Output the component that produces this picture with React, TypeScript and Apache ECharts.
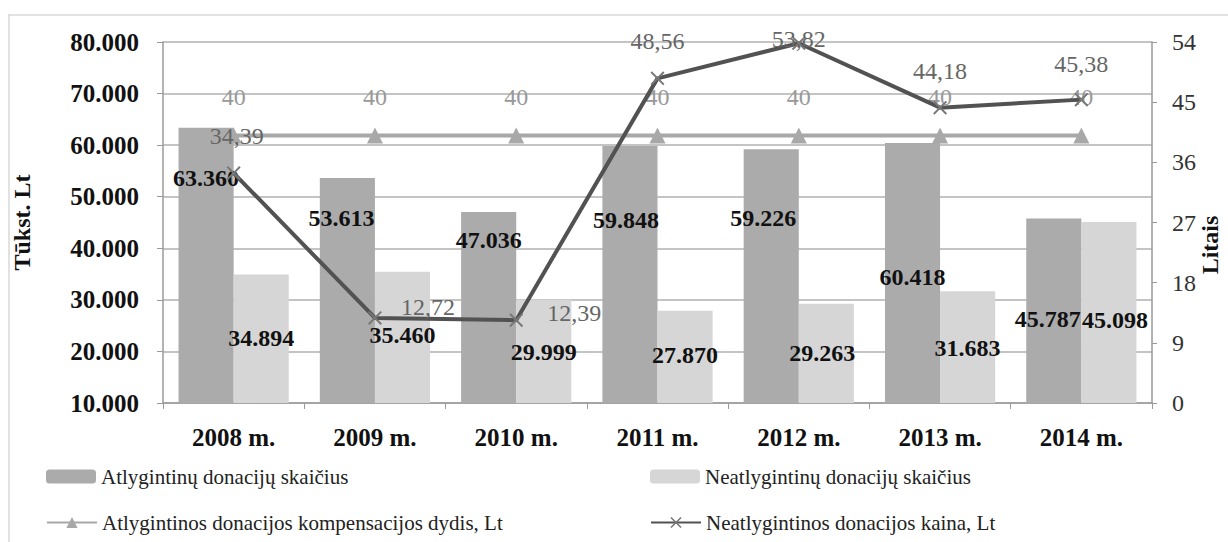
import React, { useEffect, useRef } from "react";
import * as echarts from "echarts";

const years = ["2008 m.", "2009 m.", "2010 m.", "2011 m.", "2012 m.", "2013 m.", "2014 m."];
const atlygintinu = [63360, 53613, 47036, 59848, 59226, 60418, 45787];
const neatlygintinu = [34894, 35460, 29999, 27870, 29263, 31683, 45098];
const kompensacija = [40, 40, 40, 40, 40, 40, 40];
const kaina = [34.39, 12.72, 12.39, 48.56, 53.82, 44.18, 45.38];

const leftTicks = { min: 10000, max: 80000, interval: 10000 };
const rightTicks = { min: 0, max: 54, interval: 9 };

const names = [
  "Atlygintinų donacijų skaičius",
  "Neatlygintinų donacijų skaičius",
  "Atlygintinos donacijos kompensacijos dydis, Lt",
  "Neatlygintinos donacijos kaina, Lt",
];

// label placement (styling only)
const atlDrop = [38, 28, 16, 62, 57, 122, 89];
const atlShift = [0, -6, 0, -4, -8, 0, -6];
const neatDrop = [51, 51, 40, 32, 37, 45, 86];
const neatShift = [0, 0, 0, 0, -4, 0, 6];
const kainaOffset: [number, number][] = [
  [3, -14], [53, 12], [58, 16], [0, -14], [0, 19], [0, -14], [0, -13],
];

const FONT = "'Liberation Serif', 'DejaVu Serif', serif";

const thous = (v: number) => {
  const s = Math.round(v).toString();
  return s.replace(/\B(?=(\d{3})+(?!\d))/g, ".");
};

export default function App() {
  const ref = useRef<HTMLDivElement>(null);
  useEffect(() => {
    document.body.style.margin = "0";
    if (!ref.current) return;
    const chart = echarts.init(ref.current, undefined, { renderer: "svg" });
    const crossPath = "path://M0,1L1,0L5,4L9,0L10,1L6,5L10,9L9,10L5,6L1,10L0,9L4,5Z";
    const legendBase = {
      textStyle: { fontFamily: FONT, fontSize: 21, color: "#222" },
      itemWidth: 50,
      itemHeight: 14,
      itemGap: 0,
      padding: 0,
    };
    const barLabel = {
      show: true,
      fontFamily: FONT,
      fontSize: 24,
      fontWeight: "bold",
      color: "#111",
      formatter: (p: any) => thous(p.value),
    };
    chart.setOption({
      animation: false,
      backgroundColor: "#fff",
      textStyle: { fontFamily: FONT },
      grid: { left: 163, right: 76, top: 42, bottom: 139, containLabel: false },
      graphic: [
        { type: "line", shape: { x1: 8, y1: 15, x2: 1228, y2: 15 }, style: { stroke: "#d8d8d8", lineWidth: 1.5 } },
        { type: "line", shape: { x1: 9, y1: 15, x2: 9, y2: 542 }, style: { stroke: "#d8d8d8", lineWidth: 1.5 } },
        {
          type: "text",
          x: 1210,
          y: 245,
          rotation: Math.PI / 2,
          style: {
            text: "Litais",
            fontFamily: FONT,
            fontSize: 24,
            fontWeight: "bold",
            fill: "#111",
            align: "center",
            verticalAlign: "middle",
          },
        },
      ],
      legend: [
        { ...legendBase, data: [names[0]], left: 46, top: 466 },
        { ...legendBase, data: [names[1]], left: 650, top: 466 },
        { ...legendBase, data: [names[2]], left: 46, top: 512 },
        { ...legendBase, data: [names[3]], left: 650, top: 512 },
      ],
      xAxis: {
        type: "category",
        data: years,
        axisLine: { lineStyle: { color: "#9a9a9a", width: 1.5 } },
        axisTick: { show: true, length: 6, lineStyle: { color: "#9a9a9a" } },
        axisLabel: { fontFamily: FONT, fontSize: 25, fontWeight: "bold", color: "#111", margin: 22 },
      },
      yAxis: [
        {
          type: "value",
          ...leftTicks,
          name: "Tūkst. Lt",
          nameLocation: "middle",
          nameGap: 129,
          nameRotate: 90,
          nameTextStyle: { fontFamily: FONT, fontSize: 24, fontWeight: "bold", color: "#111" },
          axisLine: { show: true, lineStyle: { color: "#9a9a9a", width: 1.5 } },
          axisTick: { show: true, length: 6, lineStyle: { color: "#9a9a9a" } },
          splitLine: { lineStyle: { color: "#b0b0b0", width: 1.5 } },
          axisLabel: { fontFamily: FONT, fontSize: 25, fontWeight: "bold", color: "#111", margin: 24, formatter: thous },
        },
        {
          type: "value",
          ...rightTicks,
          position: "right",
          axisLine: { show: true, lineStyle: { color: "#9a9a9a", width: 1.5 } },
          axisTick: { show: true, length: 5, lineStyle: { color: "#9a9a9a" } },
          splitLine: { show: false },
          axisLabel: { fontFamily: FONT, fontSize: 24, color: "#333", margin: 20 },
        },
      ],
      series: [
        {
          name: names[0],
          type: "bar",
          yAxisIndex: 0,
          barGap: "0%",
          barCategoryGap: "22%",
          itemStyle: { color: "#ababab" },
          data: atlygintinu.map((v, i) => ({
            value: v,
            label: { position: "insideTop", distance: atlDrop[i], offset: [atlShift[i], 0] },
          })),
          label: barLabel,
          z: 2,
        },
        {
          name: names[1],
          type: "bar",
          yAxisIndex: 0,
          barGap: "0%",
          barCategoryGap: "22%",
          itemStyle: { color: "#d6d6d6" },
          data: neatlygintinu.map((v, i) => ({
            value: v,
            label: { position: "insideTop", distance: neatDrop[i], offset: [neatShift[i], 0] },
          })),
          label: barLabel,
          z: 2,
        },
        {
          name: names[2],
          type: "line",
          yAxisIndex: 1,
          data: kompensacija,
          symbol: "triangle",
          symbolSize: 16,
          lineStyle: { color: "#a8a8a8", width: 4 },
          itemStyle: { color: "#a8a8a8" },
          label: {
            show: true,
            position: "top",
            distance: 19,
            fontFamily: FONT,
            fontSize: 24,
            color: "#999",
          },
          z: 3,
        },
        {
          name: names[3],
          type: "line",
          yAxisIndex: 1,
          symbol: crossPath,
          symbolSize: 14,
          lineStyle: { color: "#525252", width: 4 },
          itemStyle: { color: "#777" },
          data: kaina.map((v, i) => ({
            value: v,
            label: { offset: kainaOffset[i] },
          })),
          label: {
            show: true,
            position: "top",
            distance: 4,
            fontFamily: FONT,
            fontSize: 24,
            color: "#666",
            formatter: (p: any) => p.value.toFixed(2).replace(".", ","),
          },
          z: 4,
        },
      ],
    });
    return () => chart.dispose();
  }, []);
  return <div ref={ref} style={{ width: 1228, height: 542 }} />;
}
